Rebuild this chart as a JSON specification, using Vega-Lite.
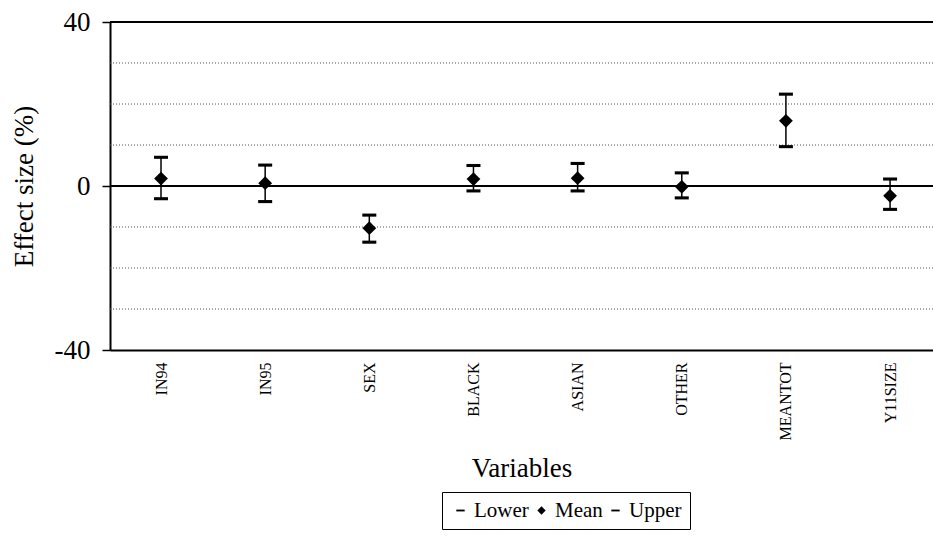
{
  "$schema": "https://vega.github.io/schema/vega-lite/v6.json",
  "autosize": {"type": "none"},
  "padding": {"left": 110, "top": 22, "right": 0, "bottom": 201},
  "width": 823,
  "height": 328,
  "background": "white",
  "config": {
    "view": {"stroke": null},
    "font": "Liberation Serif",
    "axisY": {"labelFont": "Liberation Serif", "titleFont": "Liberation Serif", "labelColor": "black", "titleColor": "black", "titleFontWeight": "normal", "labelFontSize": 27, "titleFontSize": 27, "tickSize": 8, "tickColor": "black", "tickWidth": 1.5, "domainColor": "black", "domainWidth": 2, "labelPadding": 12, "titlePadding": 16, "grid": false},
    "axisX": {"labelFont": "Liberation Serif", "titleFont": "Liberation Serif", "labelColor": "black", "titleColor": "black", "titleFontWeight": "normal", "labelFontSize": 16, "titleFontSize": 27, "domainColor": "black", "domainWidth": 2, "ticks": false, "labelPadding": 12, "titlePadding": 16},
    "legend": {"labelFont": "Liberation Serif"},
    "text": {"font": "Liberation Serif"}
  },
  "datasets": {
    "effects": [
      {"variable": "IN94", "Lower": -3.1, "Mean": 1.8, "Upper": 7.0},
      {"variable": "IN95", "Lower": -3.8, "Mean": 0.7, "Upper": 5.1},
      {"variable": "SEX", "Lower": -13.7, "Mean": -10.3, "Upper": -7.1},
      {"variable": "BLACK", "Lower": -1.2, "Mean": 1.7, "Upper": 5.0},
      {"variable": "ASIAN", "Lower": -1.2, "Mean": 1.9, "Upper": 5.5},
      {"variable": "OTHER", "Lower": -2.9, "Mean": -0.2, "Upper": 3.2},
      {"variable": "MEANTOT", "Lower": 9.6, "Mean": 15.9, "Upper": 22.4},
      {"variable": "Y11SIZE", "Lower": -5.7, "Mean": -2.4, "Upper": 1.7}
    ],
    "grid": [{"g": -30}, {"g": -20}, {"g": -10}, {"g": 10}, {"g": 20}, {"g": 30}],
    "refs": [{"r": 0}, {"r": 40}]
  },
  "layer": [
    {
      "data": {"name": "grid"},
      "mark": {"type": "rule", "color": "#555555", "strokeWidth": 1, "strokeDash": [1, 2]},
      "encoding": {
        "y": {"field": "g", "type": "quantitative", "scale": {"domain": [-40, 40], "nice": false},
              "axis": {"title": "Effect size (%)", "values": [-40, 0, 40], "labelExpr": "replace(datum.label, '\u2212', '-')", "labelFont": "Liberation Serif", "titleFont": "Liberation Serif"}}
      }
    },
    {
      "data": {"name": "refs"},
      "mark": {"type": "rule", "color": "black", "strokeWidth": 2},
      "encoding": {
        "y": {"field": "r", "type": "quantitative"}
      }
    },
    {
      "data": {"name": "effects"},
      "mark": {"type": "rule", "color": "black", "strokeWidth": 1.5},
      "encoding": {
        "x": {"field": "variable", "type": "nominal", "sort": null,
              "scale": {"type": "point", "padding": 0.451, "align": 0.543},
              "axis": {"title": "Variables", "labelAngle": -90, "labelFont": "Liberation Serif", "titleFont": "Liberation Serif"}},
        "y": {"field": "Lower", "type": "quantitative"},
        "y2": {"field": "Upper"}
      }
    },
    {
      "data": {"name": "effects"},
      "transform": [{"fold": ["Lower", "Upper"], "as": ["series", "value"]}],
      "mark": {"type": "point", "filled": true, "color": "black", "size": 196, "strokeWidth": 0, "opacity": 1},
      "encoding": {
        "x": {"field": "variable", "type": "nominal", "sort": null},
        "y": {"field": "value", "type": "quantitative"},
        "shape": {"field": "series", "type": "nominal",
                  "scale": {"domain": ["Lower", "Mean", "Upper"], "range": ["M-1,-0.22H1V0.22H-1Z", "diamond", "M-1,-0.22H1V0.22H-1Z"]},
                  "legend": {"title": null, "orient": "none", "legendX": 332, "legendY": 470, "direction": "horizontal", "strokeColor": "black", "padding": 8, "labelFont": "Liberation Serif", "labelFontSize": 21, "labelColor": "black", "symbolSize": 70, "symbolFillColor": "black", "symbolStrokeWidth": 0, "columnPadding": 2, "labelOffset": 3, "gridAlign": "none"}}
      }
    },
    {
      "data": {"name": "effects"},
      "transform": [{"fold": ["Mean"], "as": ["series", "value"]}],
      "mark": {"type": "point", "filled": true, "color": "black", "size": 190, "strokeWidth": 0, "opacity": 1},
      "encoding": {
        "x": {"field": "variable", "type": "nominal", "sort": null},
        "y": {"field": "value", "type": "quantitative"},
        "shape": {"field": "series", "type": "nominal"}
      }
    }
  ]
}
